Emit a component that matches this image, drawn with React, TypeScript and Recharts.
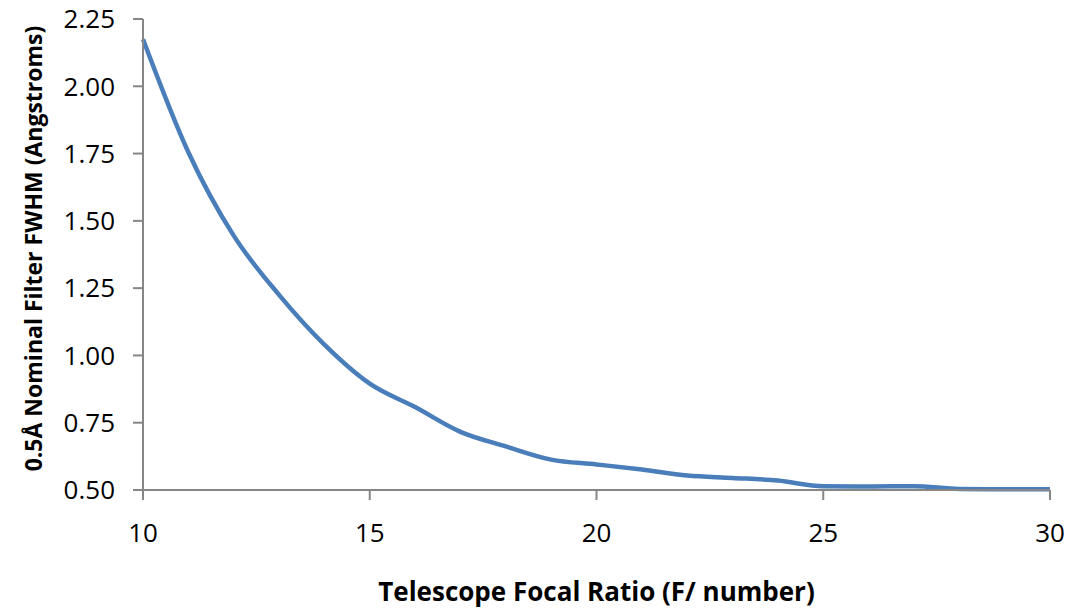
import React from 'react';
import { LineChart, Line, XAxis, YAxis, Label } from 'recharts';

const BLUE = '#4a7ebb';
const AXIS = '#868686';
const FONT = '"Open Sans", sans-serif';

// Focal ratio (F/number) vs nominal filter FWHM.
const focalRatio = [10, 11, 12, 13, 14, 15, 16, 17, 18, 19, 20, 21, 22, 23, 24, 25, 26, 27, 28, 29, 30];
const fwhm = [2.175, 1.755, 1.445, 1.225, 1.04, 0.895, 0.808, 0.716, 0.662, 0.613, 0.595, 0.576, 0.554, 0.545, 0.535, 0.514, 0.513, 0.514, 0.504, 0.503, 0.503];

const xTicks = [10, 15, 20, 25, 30];
const yTicks = [0.5, 0.75, 1.0, 1.25, 1.5, 1.75, 2.0, 2.25];

const data = focalRatio.map((f, i) => ({ f, fwhm: fwhm[i] }));

const tickStyle = { fill: '#000', fontFamily: FONT, fontSize: 26 };

export default function App() {
  return (
    <div style={{ position: 'absolute', left: 0, top: 0, background: '#fff' }}>
      <LineChart
        width={1070}
        height={611}
        data={data}
        margin={{ top: 19, right: 20, bottom: 0, left: 0 }}
      >
        <XAxis
          dataKey="f"
          type="number"
          domain={[10, 30]}
          ticks={xTicks}
          stroke={AXIS}
          strokeWidth={2}
          tickSize={10}
          tickMargin={24}
          tick={tickStyle}
          height={121}
        >
          <Label
            value="Telescope Focal Ratio (F/ number)"
            position="insideBottom"
            offset={10}
            style={{ fill: '#000', fontFamily: FONT, fontSize: 26, fontWeight: 700 }}
          />
        </XAxis>
        <YAxis
          type="number"
          domain={[0.5, 2.25]}
          ticks={yTicks}
          stroke={AXIS}
          strokeWidth={2}
          tickSize={10}
          tickMargin={18}
          tick={tickStyle}
          tickFormatter={(v: number) => v.toFixed(2)}
          width={143}
        >
          <Label
            content={({ viewBox }: any) => {
              const cy = viewBox.y + viewBox.height / 2 - 6;
              return (
                <text
                  x={33}
                  y={cy}
                  transform={`rotate(-90, 33, ${cy})`}
                  textAnchor="middle"
                  dominantBaseline="central"
                  style={{ fill: '#000', fontFamily: FONT, fontSize: 23, fontWeight: 700 }}
                >
                  0.5Å Nominal Filter FWHM (Angstroms)
                </text>
              );
            }}
          />
        </YAxis>
        <Line
          type="monotone"
          dataKey="fwhm"
          stroke={BLUE}
          strokeWidth={4.5}
          dot={false}
          isAnimationActive={false}
        />
      </LineChart>
    </div>
  );
}
